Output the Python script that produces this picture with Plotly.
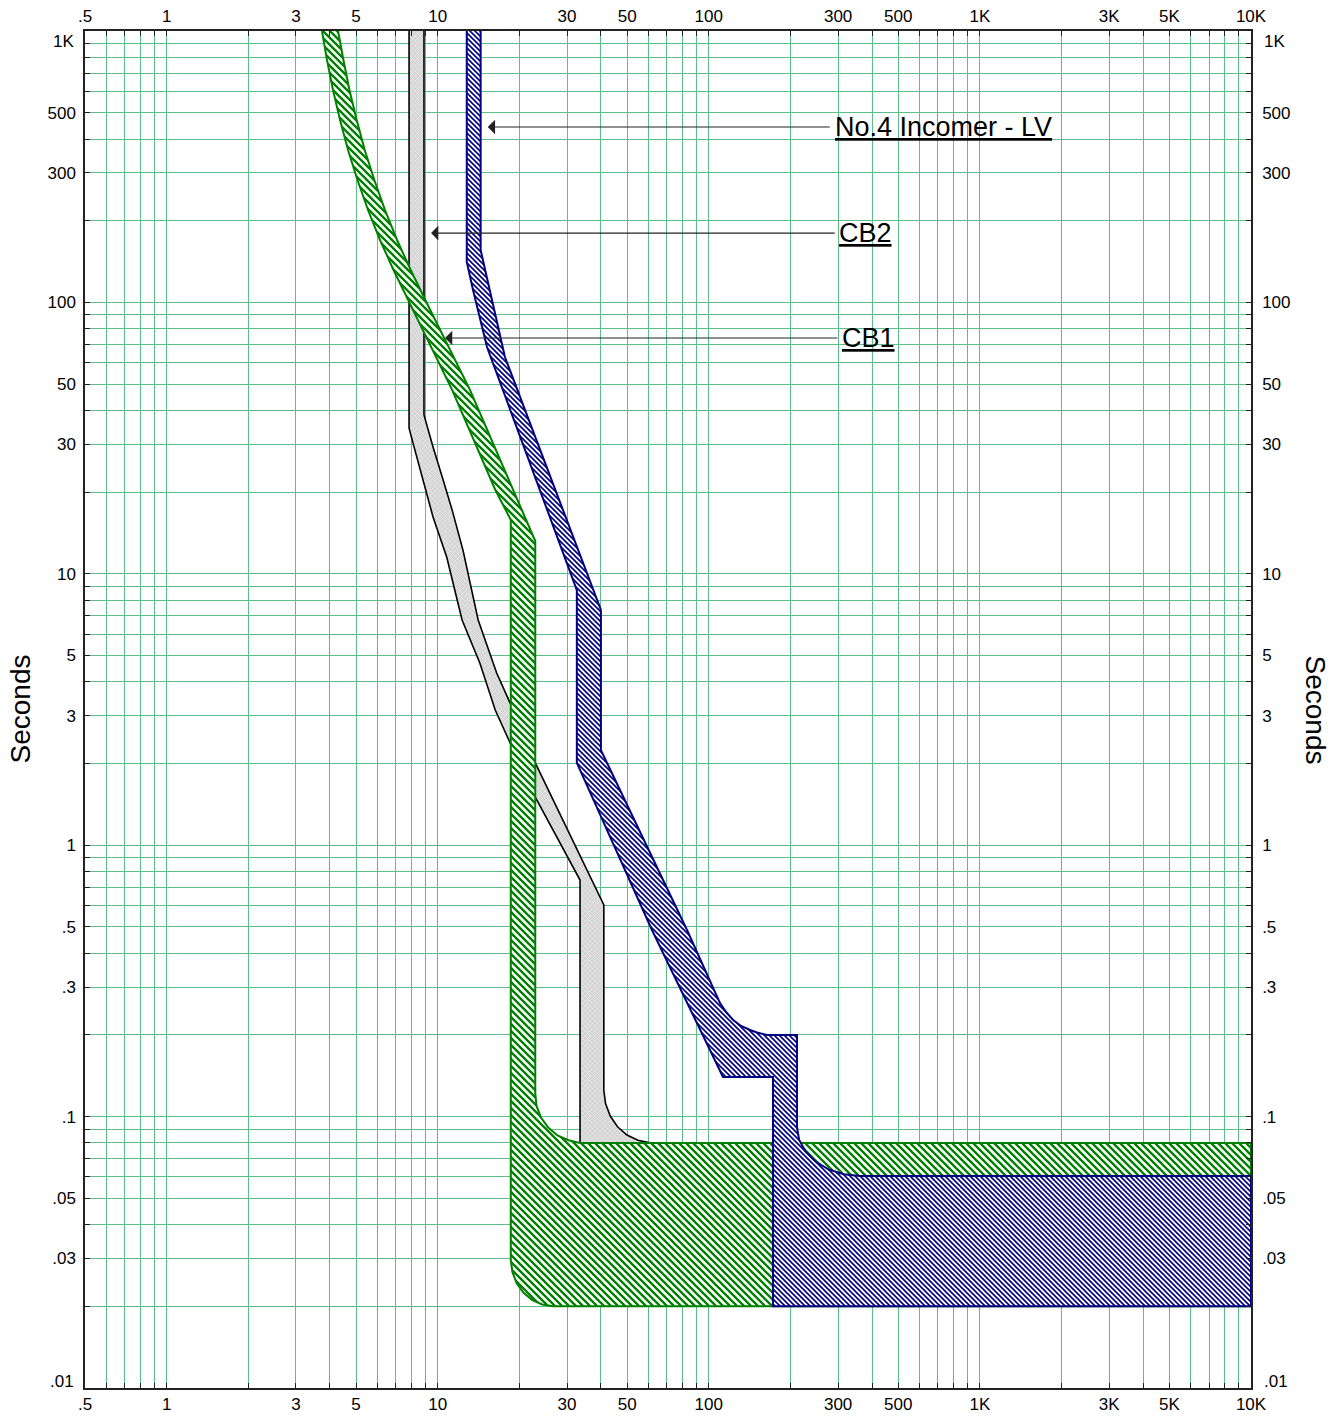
import numpy as np
import plotly.graph_objects as go

# ---------------- axis ticks ----------------
X_MAJOR = [0.5, 1, 3, 5, 10, 30, 50, 100, 300, 500, 1000, 3000, 5000, 10000]
X_LABELS = [".5", "1", "3", "5", "10", "30", "50", "100", "300", "500", "1K", "3K", "5K", "10K"]
X_MINOR = [0.6, 0.7, 0.8, 0.9, 2, 4, 6, 7, 8, 9, 20, 40, 60, 70, 80, 90,
           200, 400, 600, 700, 800, 900, 2000, 4000, 6000, 7000, 8000, 9000]
Y_MAJOR = [0.01, 0.03, 0.05, 0.1, 0.3, 0.5, 1, 3, 5, 10, 30, 50, 100, 300, 500, 1000]
Y_LABELS = [".01", ".03", ".05", ".1", ".3", ".5", "1", "3", "5", "10", "30", "50",
            "100", "300", "500", "1K"]
Y_MINOR = [0.02, 0.04, 0.06, 0.07, 0.08, 0.09, 0.2, 0.4, 0.6, 0.7, 0.8, 0.9,
           2, 4, 6, 7, 8, 9, 20, 40, 60, 70, 80, 90, 200, 400, 600, 700, 800, 900]
X_RANGE = [0.5, 10000]
Y_RANGE = [0.01, 1000]

# ---------------- curves (current A, time s) ----------------
# CB1 (green band)
CB1_MIN_I = [3.742, 3.905, 4.109, 4.362, 4.668, 5.059, 5.533, 6.126, 6.87, 7.771, 11.3, 16.3, 18.6,
             18.6, 18.86, 19.54, 20.69, 22.28, 24.28, 26.6, 10000]
CB1_MIN_T = [1000, 781.8, 606.1, 469.9, 364.3, 282.4, 219.0, 169.8, 131.6, 102.1, 47.6, 20.4, 15.8,
             0.0296, 0.02678, 0.02437, 0.02249, 0.02113, 0.02032, 0.02, 0.02]
CB1_MAX_I = [4.29, 4.49, 4.725, 5.025, 5.38, 5.838, 6.39, 7.08, 7.95, 9.0, 13.15, 18.96, 22.9,
             22.9, 23.14, 24.04, 25.56, 27.66, 30.35, 33.5, 10000]
CB1_MAX_T = [1000, 781.8, 606.1, 469.9, 364.3, 282.4, 219.0, 169.8, 131.6, 102.1, 47.6, 20.4, 13.2,
             0.122, 0.1097, 0.0992, 0.0911, 0.0852, 0.0818, 0.08, 0.08]

# CB2 (grey band)
CB2_MIN_I = [7.84, 7.84, 8.11, 8.75, 9.61, 10.8, 12.3, 14.3, 16.3, 18.5, 22.9, 33.5, 33.5]
CB2_MIN_T = [1000, 34.4, 30.3, 22.7, 16.2, 11.5, 6.76, 4.69, 3.15, 2.38, 1.505, 0.744, 0.08]
CB2_MAX_I = [8.9, 8.9, 9.61, 10.4, 11.3, 12.4, 14.1, 16.5, 18.5, 22.9, 41.0, 41.0,
             41.6, 43.3, 46.05, 49.9, 54.8, 60.7]
CB2_MAX_T = [1000, 38.5, 29.3, 22.7, 17.2, 12.2, 6.76, 4.31, 3.34, 2.01, 0.602, 0.125,
             0.1117, 0.1005, 0.0917, 0.0855, 0.0818, 0.08]

# No.4 Incomer - LV (blue band)
INC_MIN_I = [12.8, 12.8, 13.5, 15.2, 32.6, 32.6, 61.7, 112.8, 172.5, 172.5, 10000]
INC_MIN_T = [1000, 141, 111, 68.5, 8.71, 2.01, 0.487, 0.14, 0.14, 0.02, 0.02]
INC_MAX_I = [14.4, 14.4, 15.5, 17.7, 40.0, 40.0, 83.1, 110, 116.2, 123, 131.5, 142, 150.6, 164,
             211.5, 211.5, 215.3, 227.2, 247.5, 276.4, 314.6, 361, 10000]
INC_MAX_T = [1000, 156, 111, 62.9, 7.36, 2.24, 0.487, 0.262, 0.2418, 0.227, 0.2158, 0.2085, 0.2041, 0.2,
             0.2, 0.0916, 0.0822, 0.0744, 0.0683, 0.0639, 0.0613, 0.0604, 0.0604]

# ---------------- labels ----------------
LABEL_TEXT = ["No.4 Incomer - LV", "CB2", "CB1"]
LABEL_TEXT_I = [294.6, 304.8, 312.6]      # where the text starts
LABEL_TAIL_I = [283, 295, 302]            # arrow tail
LABEL_TIP_I = [15.3, 9.45, 10.64]         # arrow tip
LABEL_T = [443, 180, 73.9]

FONT = "Liberation Sans, Arial, Helvetica, sans-serif"
GRID = "#5cbf89"


def band(min_i, min_t, max_i, max_t):
    return list(min_i) + list(max_i)[::-1], list(min_t) + list(max_t)[::-1]


fig = go.Figure()

x, y = band(CB2_MIN_I, CB2_MIN_T, CB2_MAX_I, CB2_MAX_T)
fig.add_trace(go.Scatter(
    x=x, y=y, mode="lines", fill="toself", name="CB2",
    line=dict(color="black", width=1.6),
    fillcolor="#d8d8d8",
    fillpattern=dict(shape="x", fgcolor="#efefef", bgcolor="#d6d6d6", size=3.5355,
                     solidity=0.25, fgopacity=1),
    hoverinfo="skip", showlegend=False))

x, y = band(CB1_MIN_I, CB1_MIN_T, CB1_MAX_I, CB1_MAX_T)
fig.add_trace(go.Scatter(
    x=x, y=y, mode="lines", fill="toself", name="CB1",
    line=dict(color="#008000", width=2),
    fillcolor="white",
    fillpattern=dict(shape="\\", fgcolor="#008000", bgcolor="white", size=4.9497,
                     solidity=0.47, fgopacity=1),
    hoverinfo="skip", showlegend=False))

x, y = band(INC_MIN_I, INC_MIN_T, INC_MAX_I, INC_MAX_T)
fig.add_trace(go.Scatter(
    x=x, y=y, mode="lines", fill="toself", name="No.4 Incomer - LV",
    line=dict(color="#000080", width=2),
    fillcolor="white",
    fillpattern=dict(shape="\\", fgcolor="#000080", bgcolor="white", size=3.5355,
                     solidity=0.47, fgopacity=1),
    hoverinfo="skip", showlegend=False))

# invisible trace so that the mirrored (top / right) axes are drawn
fig.add_trace(go.Scatter(x=X_RANGE, y=Y_RANGE, xaxis="x2", yaxis="y2", mode="markers",
                         marker=dict(opacity=0), hoverinfo="skip", showlegend=False))

tickfont = dict(family=FONT, size=17, color="black")


def all_ticks(major, labels, minor, blank=()):
    vals = sorted(list(major) + list(minor))
    lab = dict(zip(major, labels))
    txt = []
    for v in vals:
        t = lab.get(v, "")
        if t in blank:
            t = ""
        txt.append(t)
    return vals, txt


XV, XT = all_ticks(X_MAJOR, X_LABELS, X_MINOR)
YV, YT = all_ticks(Y_MAJOR, Y_LABELS, Y_MINOR, blank=(".01", "1K"))


def xax(side, grid):
    return dict(
        type="log", range=[np.log10(X_RANGE[0]), np.log10(X_RANGE[1])], side=side,
        tickmode="array", tickvals=XV, ticktext=XT, tickfont=tickfont,
        ticks="inside", ticklen=5, tickcolor="#222", tickwidth=1,
        showgrid=grid, gridcolor=GRID, gridwidth=1,
        showline=True, linecolor="#222", linewidth=1.5, zeroline=False,
        fixedrange=True, ticklabelstandoff=0, automargin=False)


def yax(side, grid, standoff):
    return dict(
        type="log", range=[np.log10(Y_RANGE[0]), np.log10(Y_RANGE[1])], side=side,
        tickmode="array", tickvals=YV, ticktext=YT, tickfont=tickfont,
        ticks="inside", ticklen=5, tickcolor="#222", tickwidth=1,
        showgrid=grid, gridcolor=GRID, gridwidth=1,
        showline=True, linecolor="#222", linewidth=1.5, zeroline=False,
        fixedrange=True, ticklabelstandoff=standoff, automargin=False)


xa2 = xax("top", False)
xa2.update(overlaying="x", anchor="y2")
ya2 = yax("right", False, 6)
ya2.update(overlaying="y", anchor="x2")

annotations = []
for txt, ti, tail, tip, t in zip(LABEL_TEXT, LABEL_TEXT_I, LABEL_TAIL_I, LABEL_TIP_I, LABEL_T):
    annotations.append(dict(
        x=np.log10(tip), y=np.log10(t), ax=np.log10(tail), ay=np.log10(t),
        xref="x", yref="y", axref="x", ayref="y", text="", showarrow=True,
        arrowhead=1, arrowsize=2.2, arrowwidth=1.1, arrowcolor="#222"))
    annotations.append(dict(
        x=np.log10(ti), y=np.log10(t), xref="x", yref="y", text="<u>" + txt + "</u>",
        showarrow=False, xanchor="left", yanchor="middle", xshift=-3,
        font=dict(family=FONT, size=27, color="black")))

# end-of-axis time labels (drawn slightly inside, as on the original)
for val, lab, shift in [(Y_RANGE[1], "1K", -10), (Y_RANGE[0], ".01", 7)]:
    annotations.append(dict(x=0, y=np.log10(val), xref="paper", yref="y", text=lab,
                            showarrow=False, xanchor="right", yanchor="middle",
                            xshift=-9, yshift=shift, font=tickfont))
    annotations.append(dict(x=1, y=np.log10(val), xref="paper", yref="y", text=lab,
                            showarrow=False, xanchor="left", yanchor="middle",
                            xshift=11, yshift=shift, font=tickfont))

annotations.append(dict(x=0, y=0.5, xref="paper", yref="paper", text="Seconds",
                        textangle=-90, showarrow=False, xshift=-65, xanchor="center",
                        yanchor="middle", font=dict(family=FONT, size=28, color="black")))
annotations.append(dict(x=1, y=0.5, xref="paper", yref="paper", text="Seconds",
                        textangle=90, showarrow=False, xshift=64, xanchor="center",
                        yanchor="middle", font=dict(family=FONT, size=28, color="black")))

fig.update_layout(
    width=1343, height=1416,
    margin=dict(l=85, r=92, t=31, b=28, pad=0, autoexpand=False),
    paper_bgcolor="white", plot_bgcolor="white",
    xaxis=xax("bottom", True), yaxis=yax("left", True, 4),
    xaxis2=xa2, yaxis2=ya2,
    annotations=annotations,
    showlegend=False,
)

fig.write_html("out.html", config={"displayModeBar": False},
               post_script="document.body.style.margin='0';document.body.style.overflow='hidden';")
